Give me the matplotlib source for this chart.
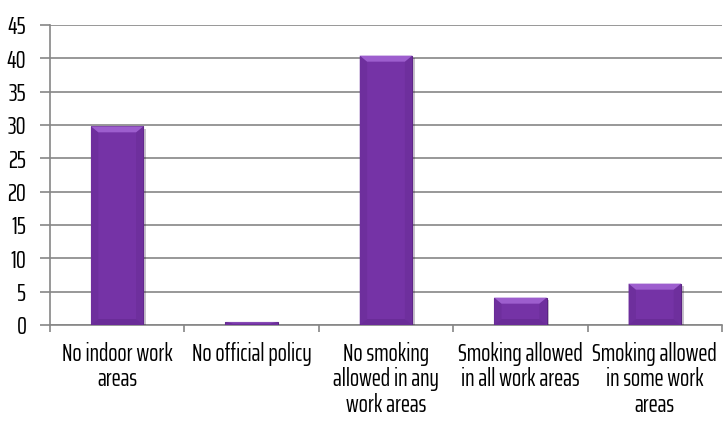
import matplotlib
matplotlib.use('Agg')
import matplotlib.pyplot as plt
from matplotlib.patches import Polygon
import matplotlib.patheffects as pe

categories = ['No indoor work\nareas', 'No official policy', 'No smoking\nallowed in any\nwork areas',
              'Smoking allowed\nin all work areas', 'Smoking allowed\nin some work\nareas']
values = [29.8, 0.4, 40.4, 4.1, 6.2]
yticks = list(range(0, 50, 5))

plt.rcParams['font.family'] = ['Saira ExtraCondensed', 'Saira Condensed', 'DejaVu Sans']

GRID = '#868686'
PURPLE = '#7533a6'

fig = plt.figure(figsize=(7.25, 4.21), dpi=100)
ax = fig.add_axes([50 / 725, 1 - 325 / 421, 672 / 725, 300 / 421])

x = list(range(len(categories)))
bars = ax.bar(x, values, width=0.39, color=PURPLE, edgecolor='#5a2382', linewidth=0.8, zorder=3)
for b in bars:
    b.set_path_effects([pe.SimplePatchShadow(offset=(2, -2), alpha=0.25), pe.Normal()])

# bevel on each bar
for b in bars:
    x0, w, h = b.get_x(), b.get_width(), b.get_height()
    dx = w * 0.14
    dy = min(0.9, h / 3)
    top = Polygon([(x0, h), (x0 + w, h), (x0 + w - dx, h - dy), (x0 + dx, h - dy)],
                  closed=True, color='#9d5ece', lw=0, zorder=4)
    bot = Polygon([(x0, 0), (x0 + w, 0), (x0 + w - dx, dy), (x0 + dx, dy)],
                  closed=True, color='#6a2c98', lw=0, zorder=4)
    left = Polygon([(x0, 0), (x0 + dx, dy), (x0 + dx, h - dy), (x0, h)],
                   closed=True, color='#6e2f9d', lw=0, zorder=4)
    right = Polygon([(x0 + w, 0), (x0 + w - dx, dy), (x0 + w - dx, h - dy), (x0 + w, h)],
                    closed=True, color='#6e2f9d', lw=0, zorder=4)
    for p in (left, right, top, bot):
        ax.add_patch(p)

ax.set_xlim(-0.5, len(categories) - 0.5)
ax.set_ylim(0, 45)
ax.set_yticks(yticks)
ax.set_yticklabels([str(v) for v in yticks], fontsize=18)
ax.yaxis.grid(True, color=GRID, linewidth=1.2, zorder=0)
ax.set_axisbelow(True)

ax.set_xticks([i + 0.5 for i in range(-1, len(categories))], minor=False)
ax.set_xticklabels([''] * (len(categories) + 1))
ax.set_xticks(x, minor=True)
ax.set_xticklabels(categories, minor=True, fontsize=17.5, linespacing=1.08)
ax.tick_params(axis='x', which='minor', length=0, pad=12)
ax.tick_params(axis='x', which='major', length=5, color=GRID, width=1.2)
ax.tick_params(axis='y', length=7, color=GRID, width=1.2, pad=10)

for s in ['top', 'right']:
    ax.spines[s].set_visible(False)
for s in ['left', 'bottom']:
    ax.spines[s].set_color(GRID)
    ax.spines[s].set_linewidth(1.2)

fig.savefig('out.png', dpi=100)
